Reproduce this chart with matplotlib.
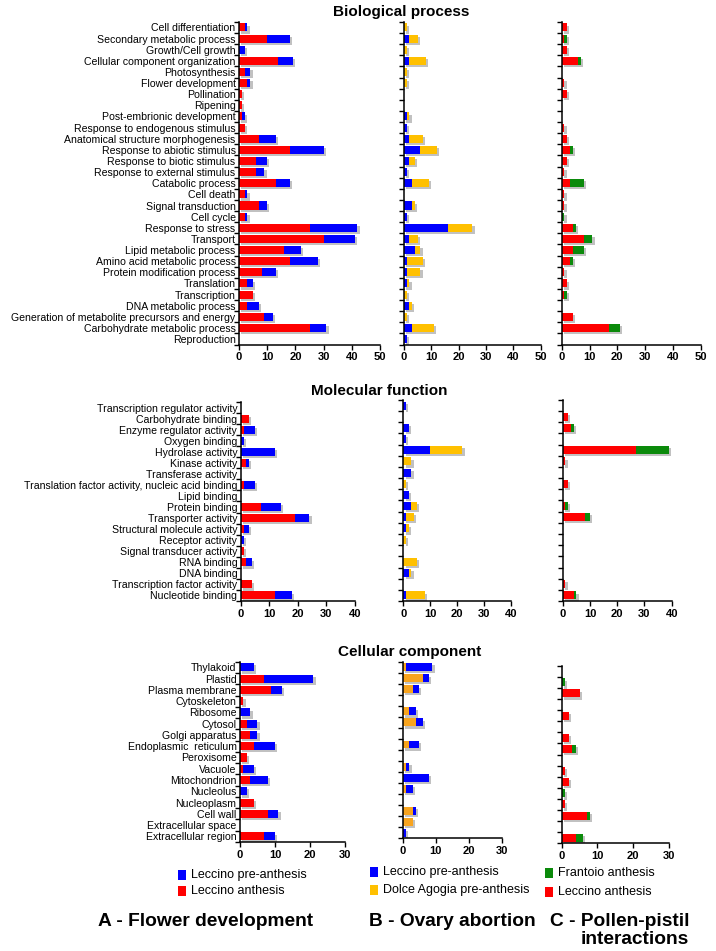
import matplotlib
matplotlib.use("Agg")
import matplotlib.pyplot as plt
import matplotlib.patheffects as pe
from matplotlib.patches import Rectangle
import numpy as np

W, H = 716, 951

# ---------------- DATA ----------------
bp_cats = ["Cell differentiation", "Secondary metabolic process", "Growth/Cell growth",
           "Cellular component organization", "Photosynthesis", "Flower development",
           "Pollination", "Ripening", "Post-embrionic development",
           "Response to endogenous stimulus", "Anatomical structure morphogenesis",
           "Response to abiotic stimulus", "Response to biotic stimulus",
           "Response to external stimulus", "Catabolic process", "Cell death",
           "Signal transduction", "Cell cycle", "Response to stress", "Transport",
           "Lipid metabolic process", "Amino acid metabolic process",
           "Protein modification process", "Translation", "Transcription",
           "DNA metabolic process", "Generation of metabolite precursors and energy",
           "Carbohydrate metabolic process", "Reproduction"]
bp_A_anthesis = [2, 10, 0, 14, 2, 3, 1, 1, 1, 2, 7, 18, 6, 6, 13, 2, 7, 2, 25, 30, 16, 18, 8, 3, 5, 3, 9, 25, 0]
bp_A_pre = [1, 8, 2, 5, 2, 1, 0, 0, 1, 0, 6, 12, 4, 3, 5, 1, 3, 1, 17, 11, 6, 10, 5, 2, 0, 4, 3, 6, 0]
bp_B_leccino = [0, 2, 0, 2, 0, 0, 0, 0, 1, 1, 2, 6, 2, 1, 3, 0, 3, 1, 16, 2, 4, 1, 1, 1, 0, 2, 0, 3, 1]
bp_B_dolce = [1, 3, 1, 6, 1, 1, 0, 0, 1, 0, 5, 6, 2, 0, 6, 0, 1, 0, 9, 3, 2, 6, 5, 1, 1, 1, 1, 8, 0]
bp_C_leccino = [2, 1, 2, 6, 0, 1, 2, 0, 0, 1, 2, 3, 2, 1, 3, 1, 1, 0, 4, 8, 4, 3, 1, 2, 1, 0, 4, 17, 0]
bp_C_frantoio = [0, 1, 0, 1, 0, 0, 0, 0, 0, 0, 0, 1, 0, 0, 5, 0, 0, 1, 1, 3, 4, 1, 0, 0, 1, 0, 0, 4, 0]

mf_cats = ["Transcription regulator activity", "Carbohydrate binding", "Enzyme regulator activity",
           "Oxygen binding", "Hydrolase activity", "Kinase activity", "Transferase activity",
           "Translation factor activity, nucleic acid binding", "Lipid binding", "Protein binding",
           "Transporter activity", "Structural molecule activity", "Receptor activity",
           "Signal transducer activity", "RNA binding", "DNA binding",
           "Transcription factor activity", "Nucleotide binding"]
mf_A_anthesis = [0, 3, 1, 0, 0, 2, 0, 1, 0, 7, 19, 1, 0, 1, 2, 0, 4, 12]
mf_A_pre = [0, 0, 4, 1, 12, 1, 0, 4, 0, 7, 5, 2, 1, 0, 2, 0, 0, 6]
mf_B_leccino = [1, 0, 2, 1, 10, 0, 3, 0, 2, 3, 1, 1, 0, 0, 0, 2, 0, 1]
mf_B_dolce = [0, 0, 0, 0, 12, 3, 0, 1, 0, 2, 3, 1, 1, 0, 5, 1, 0, 7]
mf_C_leccino = [0, 2, 3, 0, 27, 1, 0, 2, 0, 1, 8, 0, 0, 0, 0, 0, 1, 4]
mf_C_frantoio = [0, 0, 1, 0, 12, 0, 0, 0, 0, 1, 2, 0, 0, 0, 0, 0, 0, 1]

cc_cats = ["Thylakoid", "Plastid", "Plasma membrane", "Cytoskeleton", "Ribosome", "Cytosol",
           "Golgi apparatus", "Endoplasmic  reticulum", "Peroxisome", "Vacuole", "Mitochondrion",
           "Nucleolus", "Nucleoplasm", "Cell wall", "Extracellular space", "Extracellular region"]
cc_A_anthesis = [0, 7, 9, 1, 0, 2, 3, 4, 2, 1, 3, 0, 4, 8, 0, 7]
cc_A_pre = [4, 14, 3, 0, 3, 3, 2, 6, 0, 3, 5, 2, 0, 3, 0, 3]
cc_B_dolce = [1, 6, 3, 0, 2, 4, 0, 2, 0, 1, 0, 1, 0, 3, 3, 0]
cc_B_leccino = [8, 2, 2, 0, 2, 2, 0, 3, 0, 1, 8, 2, 0, 1, 0, 1]
cc_C_leccino = [0, 0, 5, 0, 2, 0, 2, 3, 0, 1, 2, 0, 1, 7, 0, 4]
cc_C_frantoio = [0, 1, 0, 0, 0, 0, 0, 1, 0, 0, 0, 1, 0, 1, 0, 2]

BLUE = "#0000FF"
RED = "#FF0000"
GREEN = "#0B8A0B"
YELLOW = "#FFC000"
ORANGE = "#F8A41E"

BASE_FONT = ["Liberation Sans", "DejaVu Sans"]
plt.rcParams["font.family"] = BASE_FONT

fig = plt.figure(figsize=(W / 100, H / 100), dpi=100)


def add_ax(x0, x1, ytop, ybot):
    return fig.add_axes([x0 / W, 1 - ybot / H, (x1 - x0) / W, (ybot - ytop) / H])


shadow = [pe.SimplePatchShadow(offset=(1.6, -1.6), shadow_rgbFace="#777777", alpha=0.45), pe.Normal()]


def panel(x0, x1, ytop, ybot, cats, first, second, c1, c2, xmax, xticks, show_labels):
    ax = add_ax(x0, x1, ytop, ybot)
    n = len(cats)
    y = np.arange(n)
    first = np.array(first, float)
    second = np.array(second, float)
    b1 = ax.barh(y, first, height=0.72, color=c1, linewidth=0)
    b2 = ax.barh(y, second, left=first, height=0.72, color=c2, linewidth=0)
    for b in list(b1) + list(b2):
        if b.get_width() > 0:
            b.set_path_effects(shadow)
    ax.set_xlim(0, xmax)
    ax.set_ylim(n - 0.5, -0.5)
    for s in ["top", "right"]:
        ax.spines[s].set_visible(False)
    for s in ["left", "bottom"]:
        ax.spines[s].set_linewidth(1.1)
    ax.set_xticks(xticks)
    ax.set_xticklabels([str(t) for t in xticks], fontsize=8, fontweight="bold")
    ax.tick_params(axis="x", length=3.5, width=1.0, pad=2)
    ax.set_yticks(np.arange(n + 1) - 0.5)
    ax.set_yticklabels([])
    ax.tick_params(axis="y", which="major", length=3.5, width=1.0)
    if show_labels:
        ax.set_yticks(y, cats, minor=True)
        ax.tick_params(axis="y", which="minor", length=0, pad=2.5)
        for lab in ax.get_yticklabels(minor=True):
            lab.set_fontsize(7.6)
    return ax


# Biological process
panel(239, 380, 21.9, 344.6, bp_cats, bp_A_anthesis, bp_A_pre, RED, BLUE, 50, [0, 10, 20, 30, 40, 50], True)
panel(404, 540.7, 21.9, 344.6, bp_cats, bp_B_leccino, bp_B_dolce, BLUE, YELLOW, 50, [0, 10, 20, 30, 40, 50], False)
panel(561.7, 700.7, 21.9, 344.6, bp_cats, bp_C_leccino, bp_C_frantoio, RED, GREEN, 50, [0, 10, 20, 30, 40, 50], False)

# Molecular function
panel(240.7, 355, 402, 601, mf_cats, mf_A_anthesis, mf_A_pre, RED, BLUE, 40, [0, 10, 20, 30, 40], True)
panel(403.3, 510.7, 400, 601, mf_cats, mf_B_leccino, mf_B_dolce, BLUE, YELLOW, 40, [0, 10, 20, 30, 40], False)
panel(562.7, 671.7, 400, 601, mf_cats, mf_C_leccino, mf_C_frantoio, RED, GREEN, 40, [0, 10, 20, 30, 40], False)

# Cellular component
panel(240, 345, 661.7, 842, cc_cats, cc_A_anthesis, cc_A_pre, RED, BLUE, 30, [0, 10, 20, 30], True)
panel(402.7, 502, 661.7, 838.3, cc_cats, cc_B_dolce, cc_B_leccino, ORANGE, BLUE, 30, [0, 10, 20, 30], False)
panel(561.7, 668.7, 665.7, 843.3, cc_cats, cc_C_leccino, cc_C_frantoio, RED, GREEN, 30, [0, 10, 20, 30], False)

# Section titles
for txt, x, y in [("Biological process", 401, 12), ("Molecular function", 379, 391), ("Cellular component", 410, 652)]:
    fig.text(x / W, 1 - y / H, txt, ha="center", va="center", fontsize=11, fontweight="bold")


# Legends
def legend_item(x, y, color, label):
    fig.add_artist(Rectangle(((x - 4) / W, 1 - (y + 5) / H), 8 / W, 10 / H,
                             transform=fig.transFigure, color=color, lw=0))
    fig.text((x + 9) / W, 1 - y / H, label, ha="left", va="center", fontsize=9)


legend_item(182, 875, BLUE, "Leccino pre-anthesis")
legend_item(182, 891, RED, "Leccino anthesis")
legend_item(374, 872, BLUE, "Leccino pre-anthesis")
legend_item(374, 890, YELLOW, "Dolce Agogia pre-anthesis")
legend_item(549, 873, GREEN, "Frantoio anthesis")
legend_item(549, 892, RED, "Leccino anthesis")

# Bottom titles
fig.text(313 / W, 1 - 922 / H, "A - Flower development", ha="right", va="center", fontsize=13.8, fontweight="bold")
fig.text(452 / W, 1 - 922 / H, "B - Ovary abortion", ha="center", va="center", fontsize=13.8, fontweight="bold")
fig.text(689 / W, 1 - 922 / H, "C - Pollen-pistil", ha="right", va="center", fontsize=13.8, fontweight="bold")
fig.text(689 / W, 1 - 939 / H, "interactions", ha="right", va="center", fontsize=13.8, fontweight="bold")

fig.savefig("out.png", dpi=100)
